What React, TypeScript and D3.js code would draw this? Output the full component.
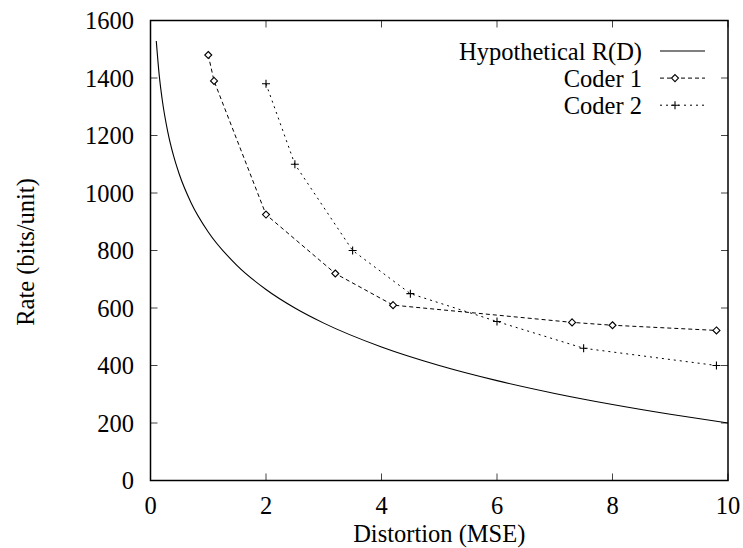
import React from "react";
import * as d3 from "d3";

const rdD = [0.1, 0.15, 0.2, 0.3, 0.4, 0.5, 0.7, 1, 1.5, 2, 2.5, 3, 4, 5, 6, 7, 8, 9, 10];
const rdR = [1528.8, 1411.8, 1328.8, 1211.8, 1128.8, 1064.4, 967.3, 864.4, 747.4, 664.4, 600, 547.4, 464.4, 400, 347.4, 302.9, 264.4, 230.4, 200];

const coder1D = [1.0, 1.1, 2.0, 3.2, 4.2, 7.3, 8.0, 9.8];
const coder1R = [1480, 1390, 925, 720, 610, 550, 540, 522];

const coder2D = [2.0, 2.5, 3.5, 4.5, 6.0, 7.5, 9.8];
const coder2R = [1380, 1100, 800, 650, 553, 460, 400];

const xTicks = [0, 2, 4, 6, 8, 10];
const yTicks = [0, 200, 400, 600, 800, 1000, 1200, 1400, 1600];

const legendLabels = ["Hypothetical R(D)", "Coder 1", "Coder 2"];

export default function App() {
  const W = 743, H = 548;
  const L = 150.5, R = 728, T = 20.5, B = 480.5;
  const x = d3.scaleLinear().domain([0, 10]).range([L, R]);
  const y = d3.scaleLinear().domain([0, 1600]).range([B, T]);
  const font = "'Liberation Serif', 'Times New Roman', Times, serif";
  const fs = 24.5;

  const smooth = d3.line<[number, number]>().x(d => x(d[0])).y(d => y(d[1])).curve(d3.curveMonotoneX);
  const straight = d3.line<[number, number]>().x(d => x(d[0])).y(d => y(d[1]));

  const rdPts = rdD.map((d, i) => [d, rdR[i]] as [number, number]);
  const c1Pts = coder1D.map((d, i) => [d, coder1R[i]] as [number, number]);
  const c2Pts = coder2D.map((d, i) => [d, coder2R[i]] as [number, number]);

  const diamond = (cx: number, cy: number, key: string) => (
    <path key={key} d={`M${cx},${cy - 3.5}L${cx + 3.5},${cy}L${cx},${cy + 3.5}L${cx - 3.5},${cy}Z`} fill="white" stroke="#000" strokeWidth={1.1} />
  );
  const plus = (cx: number, cy: number, key: string) => (
    <path key={key} d={`M${cx - 4},${cy}H${cx + 4}M${cx},${cy - 4}V${cy + 4}`} stroke="#000" strokeWidth={1.1} />
  );

  const tickLen = 7;
  const legTextY = [59.5, 86.6, 113.7];
  const legY = legTextY.map(v => v - 8.5);

  return (
    <svg width={W} height={H} style={{ position: "absolute", left: 0, top: 0, background: "white" }}>
      <rect x={0} y={0} width={W} height={H} fill="white" />
      {xTicks.map(t => (
        <g key={"xt" + t}>
          <line x1={x(t)} x2={x(t)} y1={B} y2={B - tickLen} stroke="#444" strokeWidth={1} />
          <line x1={x(t)} x2={x(t)} y1={T} y2={T + tickLen} stroke="#444" strokeWidth={1} />
          <text x={x(t)} y={514} textAnchor="middle" fontFamily={font} fontSize={fs} fill="#000">{t}</text>
        </g>
      ))}
      {yTicks.map(t => (
        <g key={"yt" + t}>
          <line x1={L} x2={L + tickLen} y1={y(t)} y2={y(t)} stroke="#444" strokeWidth={1} />
          <line x1={R} x2={R - tickLen} y1={y(t)} y2={y(t)} stroke="#444" strokeWidth={1} />
          <text x={134} y={y(t) + 8.5} textAnchor="end" fontFamily={font} fontSize={fs} fill="#000">{t}</text>
        </g>
      ))}
      <rect x={L} y={T} width={R - L} height={B - T} fill="none" stroke="#000" strokeWidth={1.5} />
      <path d={smooth(rdPts) || ""} fill="none" stroke="#000" strokeWidth={1.1} />
      <path d={straight(c1Pts) || ""} fill="none" stroke="#000" strokeWidth={1} strokeDasharray="4,3" />
      <path d={straight(c2Pts) || ""} fill="none" stroke="#000" strokeWidth={1} strokeDasharray="2,4" />
      {c1Pts.map((p, i) => diamond(x(p[0]), y(p[1]), "d" + i))}
      {c2Pts.map((p, i) => plus(x(p[0]), y(p[1]), "p" + i))}
      {legendLabels.map((lab, i) => (
        <text key={"lt" + i} x={642} y={legTextY[i]} textAnchor="end" fontFamily={font} fontSize={fs} fill="#000">{lab}</text>
      ))}
      <line x1={660} x2={705} y1={legY[0]} y2={legY[0]} stroke="#000" strokeWidth={1.1} />
      <line x1={660} x2={705} y1={legY[1]} y2={legY[1]} stroke="#000" strokeWidth={1} strokeDasharray="4,3" />
      <line x1={660} x2={705} y1={legY[2]} y2={legY[2]} stroke="#000" strokeWidth={1} strokeDasharray="2,4" />
      {diamond(675, legY[1], "ld")}
      {plus(675, legY[2], "lp")}
      <text x={(L + R) / 2} y={541.5} textAnchor="middle" fontFamily={font} fontSize={fs} fill="#000">Distortion (MSE)</text>
      <text transform={`translate(34,252) rotate(-90)`} textAnchor="middle" fontFamily={font} fontSize={fs} fill="#000">Rate (bits/unit)</text>
    </svg>
  );
}
